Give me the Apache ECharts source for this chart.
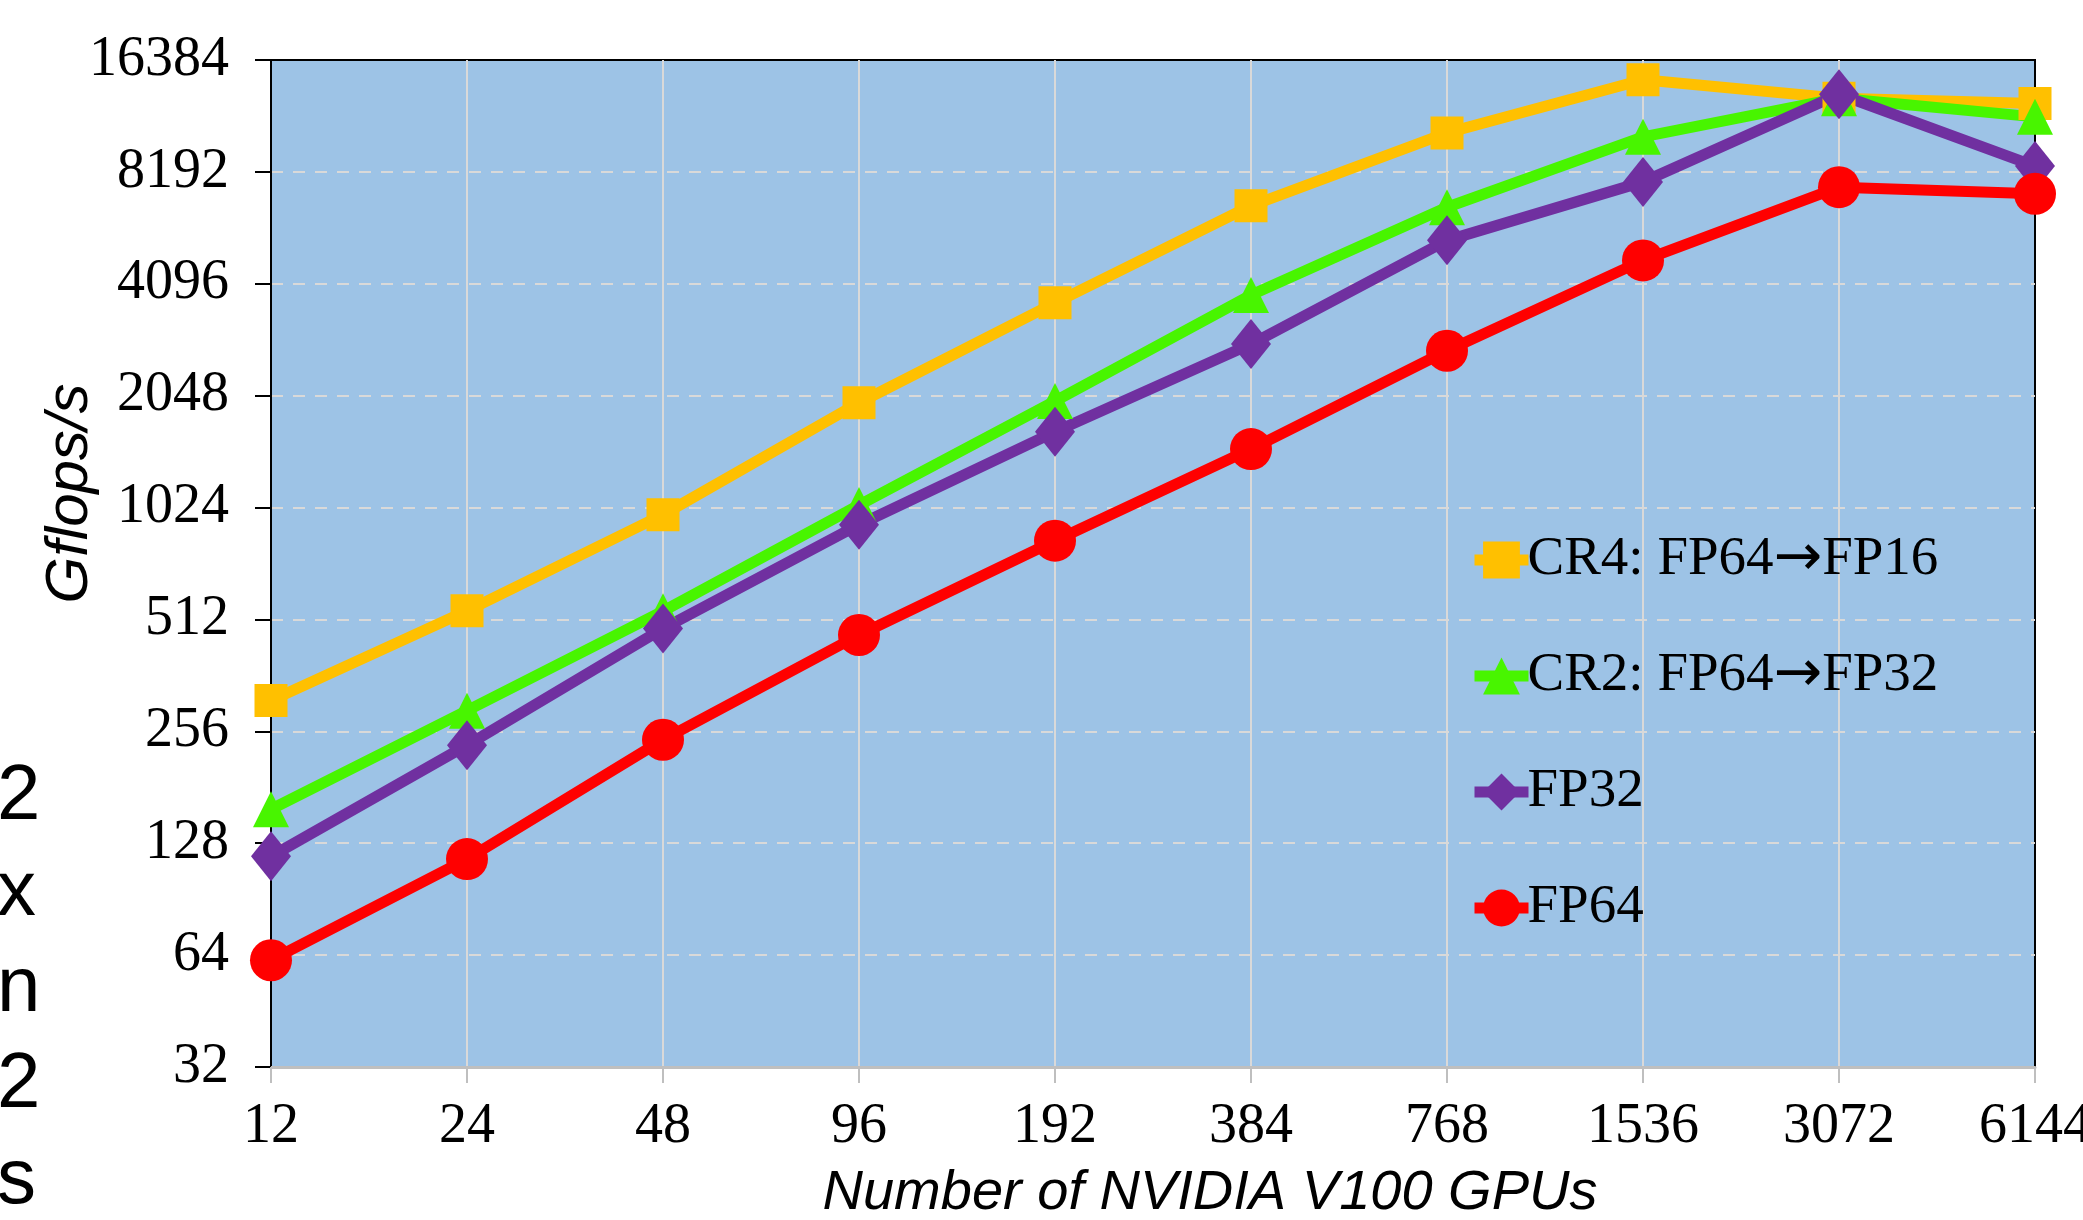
<!DOCTYPE html>
<html>
<head>
<meta charset="utf-8">
<script src="https://cdn.jsdelivr.net/npm/echarts@6/dist/echarts.min.js"></script>
<style>
html,body{margin:0;padding:0;background:#fff;}
#chart{width:2083px;height:1220px;}
</style>
</head>
<body>
<div id="chart"></div>
<script>
const gpuCounts = ['12','24','48','96','192','384','768','1536','3072','6144'];
const yTicks = [32,64,128,256,512,1024,2048,4096,8192,16384];
const cr4Fp16 = [310, 540, 980, 1960, 3640, 6640, 10430, 14500, 12930, 12510];
const cr2Fp32 = [158, 291, 539, 1040, 1980, 3820, 6580, 10180, 12930, 11520];
const fp32 = [118, 235, 484, 921, 1638, 2820, 5360, 7700, 13250, 8490];
const fp64 = [62, 116, 243, 465, 834, 1471, 2705, 4735, 7450, 7150];
const seriesNames = ['CR4: FP64\u2192FP16', 'CR2: FP64\u2192FP32', 'FP32', 'FP64'];
const leftFragments = ['2','x','n','2','s'];

const serif = '"Liberation Serif", "Times New Roman", serif';
const sans = '"Liberation Sans", Arial, sans-serif';

const chart = echarts.init(document.getElementById('chart'), null, {renderer:'canvas'});

function mkSeries(name, data, color, symbol, size) {
  return {
    name: name, type: 'line', data: data,
    symbol: symbol, symbolSize: size, showSymbol: true,
    clip: false,
    lineStyle: {color: color, width: 11},
    itemStyle: {color: color},
    emphasis: {disabled: true},
    animation: false
  };
}

const fragGraphics = leftFragments.map((t, i) => ({
  type: 'text', left: -3, top: 758 + i * 96,
  style: {text: t, font: '78px ' + sans, fill: '#000'}
}));

chart.setOption({
  backgroundColor: '#fff',
  animation: false,
  grid: {
    left: 271, right: 48, top: 60, bottom: 153,
    outerBoundsMode: 'none', containLabel: false,
    show: true, backgroundColor: '#9DC3E6',
    borderColor: '#000', borderWidth: 2
  },
  legend: {
    orient: 'vertical', left: 1464, top: 524,
    itemWidth: 54, itemHeight: 46, itemGap: 54,
    data: seriesNames,
    lineStyle: {width: 11},
    formatter: function (n) { return n.replace('\u2192', '{a|\u2192}'); },
    textStyle: {
      fontFamily: serif, fontSize: 55, color: '#000', lineHeight: 62, padding: [0,0,0,-6],
      rich: {a: {fontFamily: '"DejaVu Sans", sans-serif', fontSize: 58, color: '#000', lineHeight: 62}}
    }
  },
  xAxis: {
    type: 'category', data: gpuCounts, boundaryGap: false,
    name: 'Number of NVIDIA V100 GPUs', nameLocation: 'middle', nameGap: 98,
    nameMoveOverlap: false,
    nameTextStyle: {fontFamily: sans, fontStyle: 'italic', fontSize: 56, color: '#000', padding: [0,0,0,114]},
    axisLine: {show: true, lineStyle: {color: '#BFBFBF', width: 3}},
    axisTick: {show: true, length: 16, alignWithLabel: true, lineStyle: {color: '#BFBFBF', width: 2}},
    axisLabel: {fontFamily: serif, fontSize: 56, color: '#000', margin: 32},
    splitLine: {show: true, showMinLine: false, showMaxLine: false, lineStyle: {color: '#D9D9D9', width: 2, type: 'solid'}}
  },
  yAxis: {
    type: 'log', logBase: 2, min: 32, max: 16384, interval: 1, splitNumber: 9,
    name: 'Gflops/s', nameLocation: 'middle', nameGap: 171, nameRotate: 90,
    nameMoveOverlap: false,
    nameTextStyle: {fontFamily: sans, fontStyle: 'italic', fontSize: 60, color: '#000', padding: [0,0,0,140]},
    axisLine: {show: true, lineStyle: {color: '#000', width: 2}},
    axisTick: {show: true, length: 16, lineStyle: {color: '#000', width: 2}},
    axisLabel: {
      fontFamily: serif, fontSize: 56, color: '#000', margin: 42,
      formatter: function (v) { const r = Math.round(v); return yTicks.indexOf(r) >= 0 ? String(r) : ''; }
    },
    splitLine: {show: true, showMinLine: false, showMaxLine: false, lineStyle: {color: '#D9D9D9', width: 2, type: [12, 10]}}
  },
  series: [
    mkSeries(seriesNames[0], cr4Fp16, '#FFC000', 'rect', 33),
    mkSeries(seriesNames[1], cr2Fp32, '#48F500', 'triangle', 36),
    mkSeries(seriesNames[2], fp32, '#7030A0', 'diamond', [40, 50]),
    mkSeries(seriesNames[3], fp64, '#FF0000', 'circle', 42)
  ],
  graphic: fragGraphics
});
</script>
</body>
</html>
